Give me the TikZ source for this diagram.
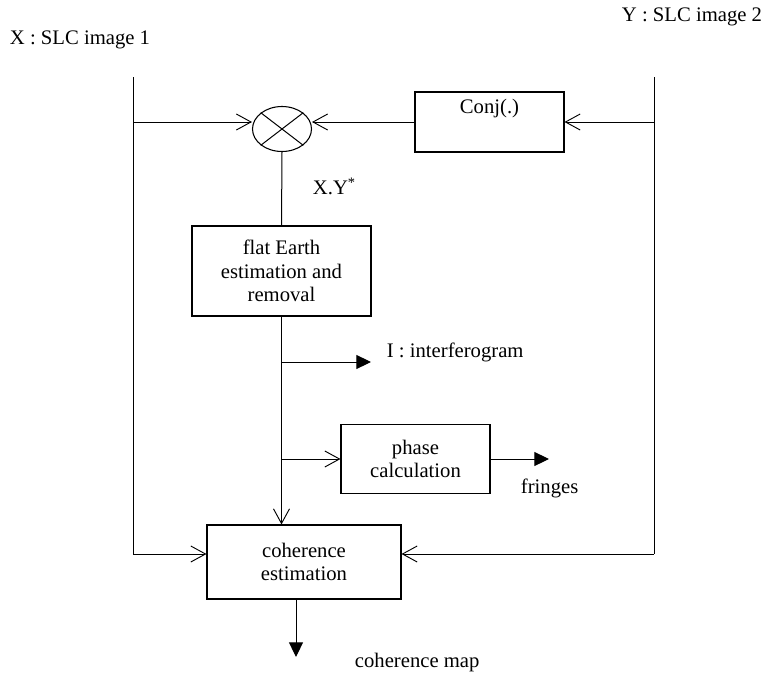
\documentclass[tikz,border=0pt]{standalone}
\usepackage{fontspec}
\setmainfont{Liberation Serif}
\usepackage{tikz}
\usetikzlibrary{arrows.meta}
\usetikzlibrary{shapes.geometric}
\usetikzlibrary{calc}

\tikzset{
	blk/.style={draw,line width=0.8pt,align=center,inner sep=0pt},
	openarr/.style={-{Straight Barb[length=11pt,width=12pt,line width=0.7pt]}},
	fillarr/.style={-{Triangle[length=11pt,width=10.5pt]}},
}

\begin{document}
\begin{tikzpicture}[x=0.75pt,y=-0.75pt,line width=0.75pt,font=\fontsize{15.5}{17.6}\selectfont]
		\useasboundingbox (0,0) rectangle (768,675);
		% blocks
		\node[blk,ellipse,minimum width=44.25pt,minimum height=33.75pt] (mult) at (282,129) {};
		\draw (mult.north west) -- (mult.south east) (mult.north east) -- (mult.south west);
		\node[blk,minimum width=111.75pt,minimum height=45pt] (conj) at (489.5,122) {Conj(.)\\ \strut};
		\node[blk,minimum width=134.25pt,minimum height=67.5pt] (flat) at (281.5,271) {flat Earth\\estimation and\\removal};
		\node[blk,minimum width=111.75pt,minimum height=51.75pt] (phase) at (415.5,459) {phase\\calculation};
		\node[blk,minimum width=145.5pt,minimum height=55.5pt] (coh) at (304,562) {coherence\\estimation};
		% labels
		\node[anchor=west] (xlab) at (5,40) {X : SLC image 1};
		\node[anchor=west] (ylab) at (617,17) {Y : SLC image 2};
		\node[anchor=west] (xy) at (308,186) {X.Y\textsuperscript{*}};
		\node[anchor=west] (ifglab) at (382,352) {I : interferogram};
		\node[anchor=west] (frlab) at (516,488) {fringes};
		\node[anchor=west] (cmlab) at (350,663) {coherence map};
		% input lines
		\coordinate (xin) at (133,77);
		\coordinate (xend) at (133,554);
		\coordinate (yin) at (654,77);
		\coordinate (yend) at (654,554);
		\coordinate (xtop) at (133,122);
		\draw (xin) -- (xend);
		\draw[openarr] (xend) -- (xend -| coh.west);
		\draw (yin) -- (yend);
		\draw[openarr] (yend) -- (yend -| coh.east);
		\draw[openarr] (xtop) -- (xtop -| mult.west);
		\draw[openarr] (yin |- conj.east) -- (conj.east);
		\draw[openarr] (conj.west) -- (conj.west -| mult.east);
		% middle chain
		\draw (mult.south) -- (flat.north);
		\draw[openarr] (flat.south) -- (flat.south |- coh.north);
		\coordinate (ifg) at (371,362);
		\draw[fillarr] (ifg -| flat.south) -- (ifg);
		\draw[openarr] (phase.west -| flat.south) -- (phase.west);
		\coordinate (fr) at (549,459);
		\draw[fillarr] (phase.east) -- (fr);
		\coordinate (cmap) at (296,657);
		\draw[fillarr] (cmap |- coh.south) -- (cmap);
	\end{tikzpicture}
\end{document}
